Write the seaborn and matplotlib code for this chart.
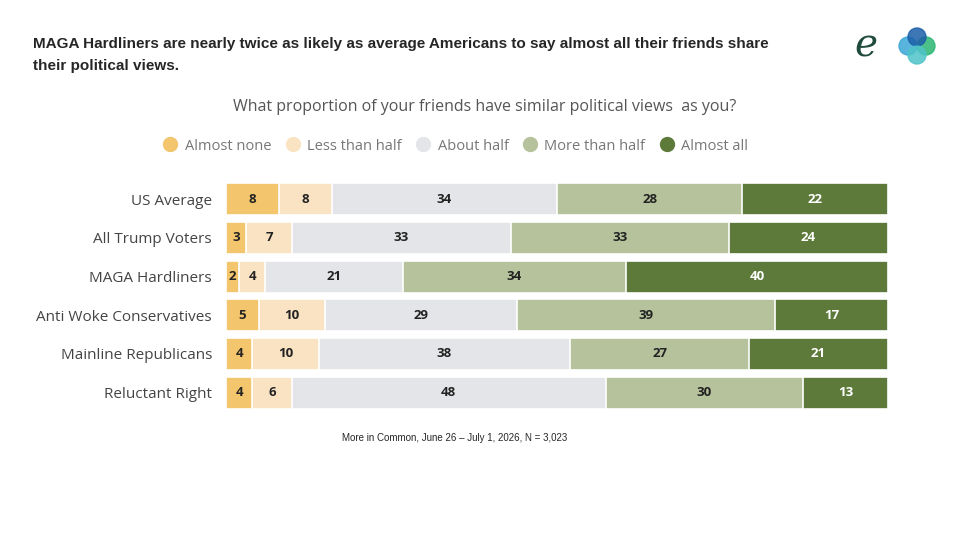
import pandas as pd
import numpy as np
import seaborn as sns
import matplotlib.pyplot as plt
from matplotlib.lines import Line2D
from matplotlib.patches import Ellipse

# data
groups = ['US Average', 'All Trump Voters', 'MAGA Hardliners',
          'Anti Woke Conservatives', 'Mainline Republicans', 'Reluctant Right']
answers = ['Almost none', 'Less than half', 'About half', 'More than half', 'Almost all']
almost_none = [8, 3, 2, 5, 4, 4]
less_than_half = [8, 7, 4, 10, 10, 6]
about_half = [34, 33, 21, 29, 38, 48]
more_than_half = [28, 33, 34, 39, 27, 30]
almost_all = [22, 24, 40, 17, 21, 13]

colours = ['#F3C56C', '#FAE3C3', '#E4E5E8', '#B6C29C', '#5D7A3B']
text_cols = ['#222222', '#222222', '#222222', '#222222', 'white']

sns.set_theme(style='white')
plt.rcParams['font.family'] = ['Open Sans', 'DejaVu Sans']

df = pd.DataFrame({'group': groups, answers[0]: almost_none, answers[1]: less_than_half,
                   answers[2]: about_half, answers[3]: more_than_half, answers[4]: almost_all})
vals = df[answers].values.astype(float)
vals = vals / vals.sum(axis=1, keepdims=True) * 100
cum = np.cumsum(vals, axis=1)

fig = plt.figure(figsize=(9.6, 5.4), dpi=100)
ax = fig.add_axes([226 / 960, 1 - 412 / 540, 662 / 960, 232 / 540])

# stack: draw longest cumulative first, then shorter ones on top
for i in reversed(range(len(answers))):
    sns.barplot(x=cum[:, i], y=df['group'], color=colours[i], orient='h',
                width=0.82, ax=ax, saturation=1, edgecolor='white', linewidth=1.2)

for r in range(len(groups)):
    for i in range(len(answers)):
        mid = cum[r, i] - vals[r, i] / 2
        ax.text(mid, r, str(df[answers[i]][r]), ha='center', va='center',
                fontsize=9.5, fontweight='bold', color=text_cols[i])

ax.set_xlim(0, 100)
ax.set_ylim(5.5, -0.5)
ax.set_xlabel('')
ax.set_ylabel('')
ax.set_xticks([])
ax.tick_params(axis='y', length=0, labelsize=11, labelcolor='#444444', pad=10)
sns.despine(ax=ax, left=True, bottom=True)

fig.text(0.034, 1 - 55 / 540, 'MAGA Hardliners are nearly twice as likely as average Americans to say almost all their friends share\ntheir political views.',
         fontsize=11, fontweight='bold', ha='left', va='center', linespacing=1.65,
         family=['Liberation Sans', 'DejaVu Sans'])
fig.text(485 / 960, 1 - 107 / 540, 'What proportion of your friends have similar political views  as you?',
         fontsize=11.5, color='#555555', ha='center', va='center')
fig.text(455 / 960, 1 - 438 / 540, 'More in Common, June 26 \u2013 July 1, 2026, N = 3,023',
         fontsize=7, ha='center', va='center', family=['Liberation Sans', 'DejaVu Sans'])

handles = [Line2D([], [], marker='o', linestyle='', markersize=10, markerfacecolor=c,
                  markeredgecolor=c) for c in colours]
fig.legend(handles, answers, loc='center', bbox_to_anchor=(452 / 960, 1 - 146 / 540),
           ncol=5, frameon=False, handletextpad=0.0, columnspacing=0.45,
           prop={'size': 10.5}, labelcolor='#777777')

# logo approximation
fig.text(866 / 960, 1 - 46 / 540, 'e', fontsize=28, color='#1F4A3C', fontstyle='italic',
         ha='center', va='center', family='DejaVu Serif')
for dx, dy, c in [(-9, 0, '#3BA7D8'), (9, 0, '#2BB673'), (0, -9, '#1C5FA8'), (0, 9, '#4FC3C8')]:
    fig.patches.append(Ellipse(((917 + dx) / 960, 1 - (46 + dy) / 540), 18 / 960, 18 / 540,
                               transform=fig.transFigure, color=c, alpha=0.85))

fig.savefig('out.png', dpi=100)
